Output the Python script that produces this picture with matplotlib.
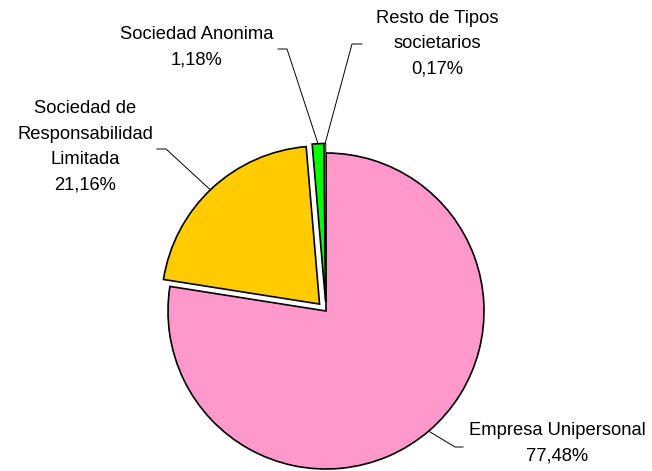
import numpy as np
import matplotlib.pyplot as plt

labels = ['Empresa Unipersonal', 'Sociedad de\nResponsabilidad\nLimitada',
          'Sociedad Anonima', 'Resto de Tipos\nsocietarios']
values = [77.48, 21.16, 1.18, 0.17]
pct_text = ['77,48%', '21,16%', '1,18%', '0,17%']
colors = ['#FF99CC', '#FFCC00', '#00FF00', '#FF5A14']

plt.rcParams['font.family'] = ['Liberation Sans', 'DejaVu Sans']

fig = plt.figure(figsize=(6.52, 4.71), dpi=100)
ax = fig.add_axes([0, 0, 1, 1])

# pixel -> data helper (pie centre at 326,311 px, radius 158 px)
CX, CY, R = 326, 311, 158
def px(x, y):
    return (x - CX) / R, (CY - y) / R

wedges, _ = ax.pie(values, colors=colors, startangle=90, counterclock=False,
                   explode=[0, 0.06, 0.06, 0.06], radius=1,
                   wedgeprops=dict(edgecolor='black', linewidth=1.2))
# thin slice: lighter outline so the colour still shows
wedges[3].set_linewidth(0.5)

ax.set_xlim(-CX / R, (652 - CX) / R)
ax.set_ylim(-(471 - CY) / R, CY / R)
ax.set_aspect('equal')
ax.axis('off')

# label text positions (centre of text block, px) and elbow of leader line
label_pos = [(557, 443), (85, 147), (197, 47), (437, 44)]
elbows = [((463, 447), (455, 447)), ((157, 149), (166, 149)),
          ((278, 49), (287, 49)), ((362, 44), (352, 44))]
anchor_frac = [0.50, 0.51, 0.5, 0.5]

for w, lab, pct, pos, (e1, e2), fr in zip(wedges, labels, pct_text, label_pos, elbows, anchor_frac):
    ang = np.deg2rad(w.theta1 + (w.theta2 - w.theta1) * fr)
    ax_ = w.center[0] + w.r * np.cos(ang)
    ay_ = w.center[1] + w.r * np.sin(ang)
    p1 = px(*e1)
    p2 = px(*e2)
    ax.plot([p1[0], p2[0], ax_], [p1[1], p2[1], ay_], color='black', lw=0.7)
    tx, ty = px(*pos)
    ax.text(tx, ty, lab + '\n' + pct, ha='center', va='center',
            fontsize=13.2, linespacing=1.65)

fig.savefig('out.png', dpi=100)
